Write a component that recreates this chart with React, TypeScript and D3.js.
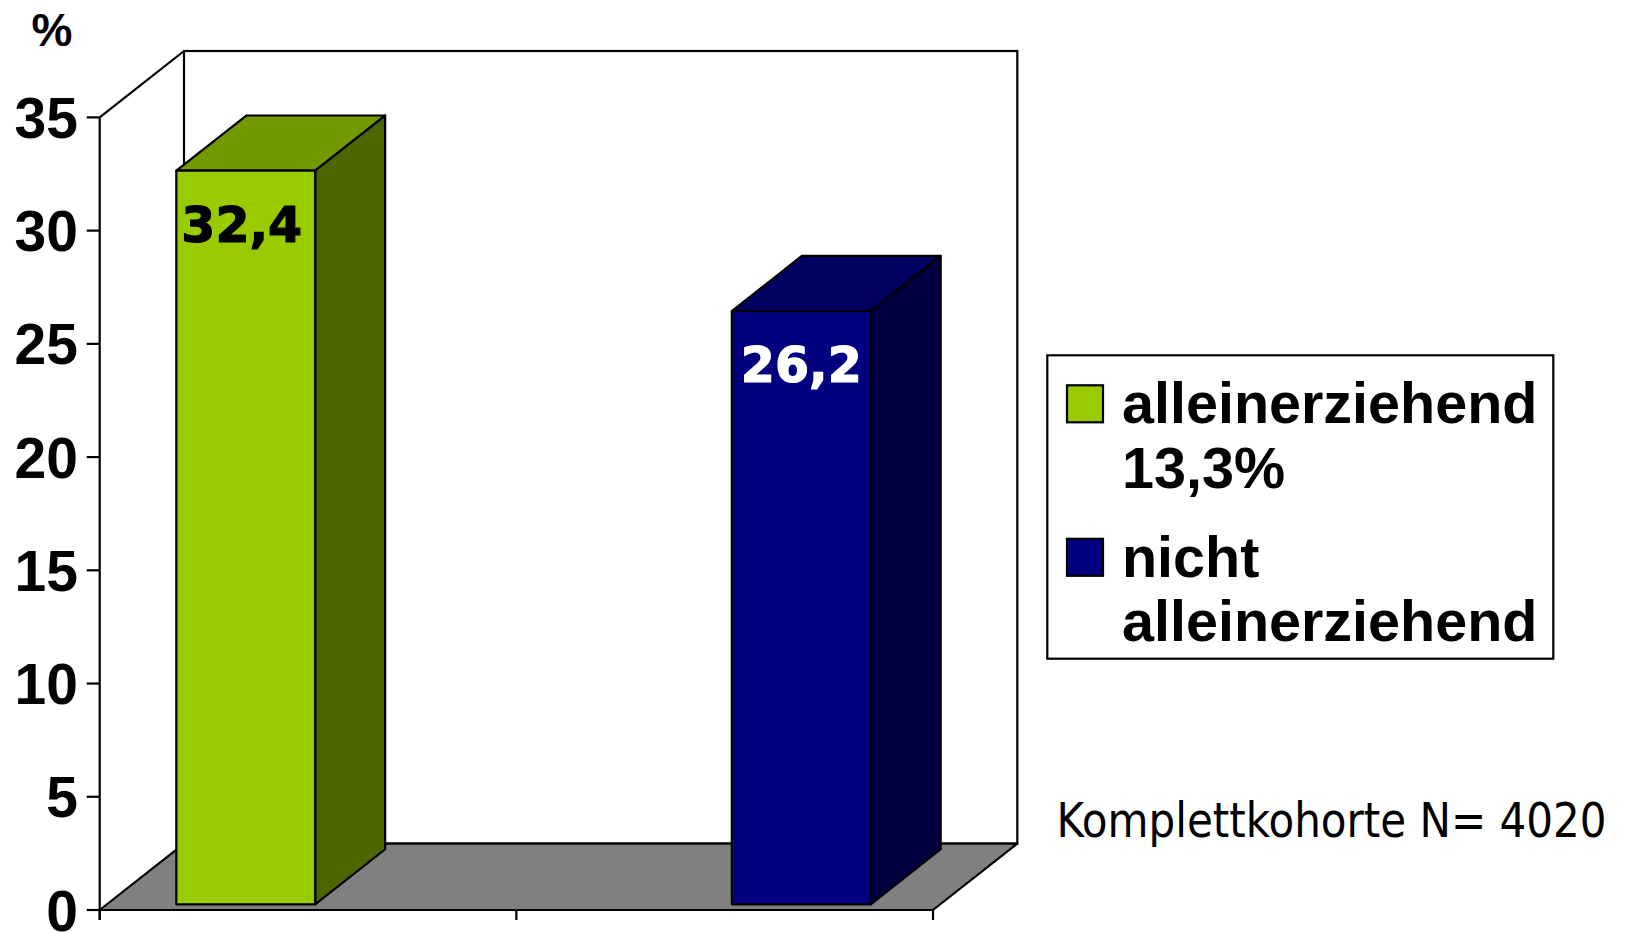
import React from "react";
import * as d3 from "d3";

const categories = ["alleinerziehend", "nicht alleinerziehend"];
const seriesNames = ["alleinerziehend 13,3%", "nicht alleinerziehend"];
const seriesLegendLines = [["alleinerziehend", "13,3%"], ["nicht", "alleinerziehend"]];
const seriesValues: (number | null)[][] = [
  [32.4, null],
  [null, 26.2],
];
const valueLabels = ["32,4", "26,2"];
const yTicks = [0, 5, 10, 15, 20, 25, 30, 35];
const yUnit = "%";
const footnote = "Komplettkohorte N= 4020";

const W = 1629;
const H = 932;

const frontColors = ["#99CC00", "#000080"];
const topColors = ["#739900", "#000060"];
const sideColors = ["#4C6600", "#000040"];
const labelColors = ["#000000", "#FFFFFF"];

export default function App() {
  const x0 = 99.7;
  const x1 = 933;
  const yB = 910;
  const yT = 117.4;
  const DX = 84.3;
  const DY = -66.4;
  const f0 = 0.085;
  const fd = 0.83;

  const y = d3.scaleLinear().domain([0, 35]).range([yB, yT]);
  const xCat = d3.scaleBand<string>().domain(categories).range([x0, x1]).padding(0);
  const xSer = d3
    .scaleBand<string>()
    .domain(seriesNames)
    .range([0, xCat.bandwidth()])
    .paddingInner(0)
    .paddingOuter(0.5);

  const pts = (arr: [number, number][]) => arr.map((p) => p.join(",")).join(" ");

  const bars: React.ReactNode[] = [];
  seriesValues.forEach((vals, si) => {
    vals.forEach((v, ci) => {
      if (v == null) return;
      const bx = (xCat(categories[ci]) as number) + (xSer(seriesNames[si]) as number);
      const bw = xSer.bandwidth();
      const ox = f0 * DX;
      const oy = f0 * DY;
      const ddx = fd * DX;
      const ddy = fd * DY;
      const L = bx + ox;
      const R = L + bw;
      const B = y(0) + oy;
      const T = y(v) + oy;
      bars.push(
        <g key={`b${si}-${ci}`} stroke="#000" strokeWidth={2.2} strokeLinejoin="round">
          <polygon points={pts([[L, T], [L + ddx, T + ddy], [R + ddx, T + ddy], [R, T]])} fill={topColors[si]} />
          <polygon points={pts([[R, T], [R + ddx, T + ddy], [R + ddx, B + ddy], [R, B]])} fill={sideColors[si]} />
          <rect x={L} y={T} width={bw} height={B - T} fill={frontColors[si]} />
          <text
            x={L + bw / 2 - (si === 0 ? 4 : 0)}
            y={T + 71}
            textAnchor="middle"
            fontFamily="'DejaVu Sans', Verdana, sans-serif"
            fontWeight="bold"
            fontSize={49}
            fill={labelColors[si]}
            stroke={labelColors[si]}
            strokeWidth={1.2}
          >
            {valueLabels[si]}
          </text>
        </g>
      );
    });
  });

  const legendX = 1047.3;
  const legendY = 355.3;
  const legendW = 506;
  const legendH = 303.4;

  return (
    <svg
      width={W}
      height={H}
      viewBox={`0 0 ${W} ${H}`}
      style={{ position: "absolute", left: 0, top: 0, background: "#fff" }}
    >
      {/* back wall */}
      <rect x={x0 + DX} y={yT + DY} width={x1 - x0} height={yB - yT} fill="#fff" stroke="#000" strokeWidth={2.2} />
      {/* left wall diagonal */}
      <line x1={x0} y1={y(35)} x2={x0 + DX} y2={y(35) + DY} stroke="#000" strokeWidth={2.2} />
      {/* floor */}
      <polygon
        points={pts([[x0, yB], [x0 + DX, yB + DY], [x1 + DX, yB + DY], [x1, yB]])}
        fill="#808080"
        stroke="#000"
        strokeWidth={2.2}
        strokeLinejoin="round"
      />
      {bars}
      {/* y axis */}
      <line x1={x0} y1={y(35)} x2={x0} y2={yB + 10} stroke="#000" strokeWidth={2.2} />
      {yTicks.map((t) => (
        <g key={t}>
          <line x1={x0 - 13} x2={x0} y1={y(t)} y2={y(t)} stroke="#000" strokeWidth={2.2} />
          <text
            x={78}
            y={y(t)}
            dy="0.36em"
            textAnchor="end"
            fontFamily="'Liberation Sans', Arial, sans-serif"
            fontWeight="bold"
            fontSize={57}
            fill="#000"
          >
            {t}
          </text>
        </g>
      ))}
      {/* x axis */}
      <line x1={x0 - 5} x2={x1} y1={yB} y2={yB} stroke="#000" strokeWidth={2.2} />
      {[...categories.map((c) => xCat(c) as number), x1].map((xt, i) => (
        <line key={i} x1={xt} x2={xt} y1={yB} y2={yB + 10} stroke="#000" strokeWidth={2.2} />
      ))}
      <text
        x={52}
        y={46}
        textAnchor="middle"
        fontFamily="'Liberation Sans', Arial, sans-serif"
        fontWeight="bold"
        fontSize={46}
        fill="#000"
      >
        {yUnit}
      </text>
      {/* legend */}
      <rect x={legendX} y={legendY} width={legendW} height={legendH} fill="#fff" stroke="#000" strokeWidth={2.2} />
      {seriesLegendLines.map((lines, si) => {
        const baseY = legendY + 68 + si * 153.5;
        return (
          <g key={si}>
            <rect x={1067} y={baseY - 38} width={36} height={37} fill={frontColors[si]} stroke="#000" strokeWidth={2.2} />
            {lines.map((ln, li) => (
              <text
                key={li}
                x={1122}
                y={baseY + li * 64.5}
                fontFamily="'Liberation Sans', Arial, sans-serif"
                fontWeight="bold"
                fontSize={57.5}
                fill="#000"
              >
                {ln}
              </text>
            ))}
          </g>
        );
      })}
      <text
        x={1056.6}
        y={836.5}
        fontFamily="'DejaVu Sans Condensed', 'DejaVu Sans', sans-serif"
        fontSize={48}
        textLength={550}
        lengthAdjust="spacingAndGlyphs"
        fill="#000"
      >
        {footnote}
      </text>
    </svg>
  );
}
